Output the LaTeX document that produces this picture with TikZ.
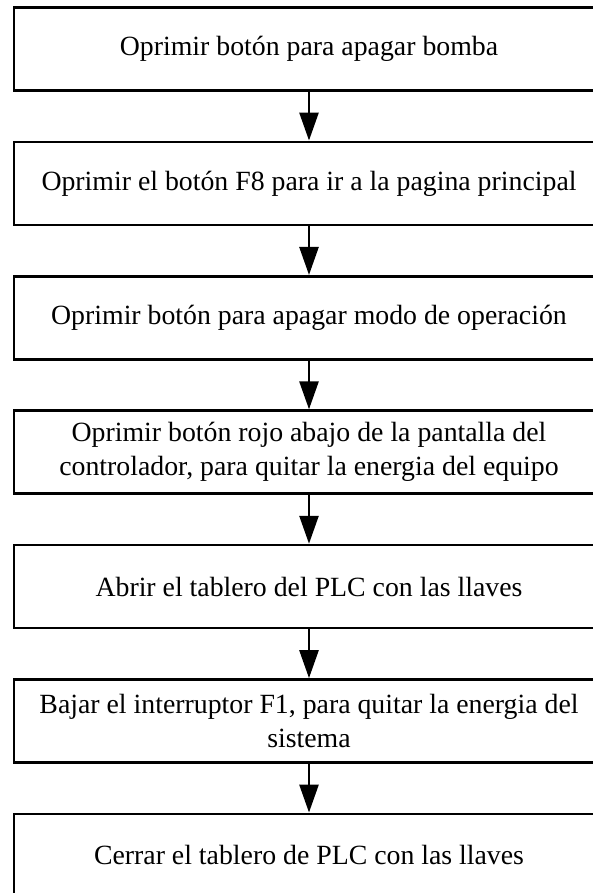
\documentclass[tikz,border=0pt]{standalone}
\usepackage{fontspec}
\setmainfont{Liberation Serif}
\usetikzlibrary{positioning,arrows.meta}

\begin{document}
\begin{tikzpicture} [node distance=67.2pt, block/.style={rectangle, draw, line width=1.35pt, text width=284pt, text badly centered, minimum width=295pt, minimum height=41.5pt, inner xsep=5.5pt, font=\fontsize{13.9}{16.9}\selectfont}, flow/.style={-{Triangle[length=14pt, width=9.5pt]}, line width=1.3pt}]
  \useasboundingbox (0,0) rectangle (296.5pt,-446.5pt);
  % Pasos para apagar
  \node [block] (bomba) at (154.5pt,-24.5pt) {Oprimir botón para apagar bomba};
  \node [block, below of=bomba] (pagina) {Oprimir el botón F8 para ir a la pagina principal};
  \node [block, below of=pagina] (modo) {Oprimir botón para apagar modo de operación};
  \node [block, below of=modo] (rojo) {Oprimir botón rojo abajo de la pantalla del controlador, para quitar la energia del equipo};
  \node [block, below of=rojo] (abrir) {Abrir el tablero del PLC con las llaves};
  \node [block, below of=abrir] (interruptor) {Bajar el interruptor F1, para quitar la energia del sistema};
  \node [block, below of=interruptor] (cerrar) {Cerrar el tablero de PLC con las llaves};
  % Draw edges
  \draw [flow] (bomba) -- (pagina);
  \draw [flow] (pagina) -- (modo);
  \draw [flow] (modo) -- (rojo);
  \draw [flow] (rojo) -- (abrir);
  \draw [flow] (abrir) -- (interruptor);
  \draw [flow] (interruptor) -- (cerrar);
\end{tikzpicture}
\end{document}
